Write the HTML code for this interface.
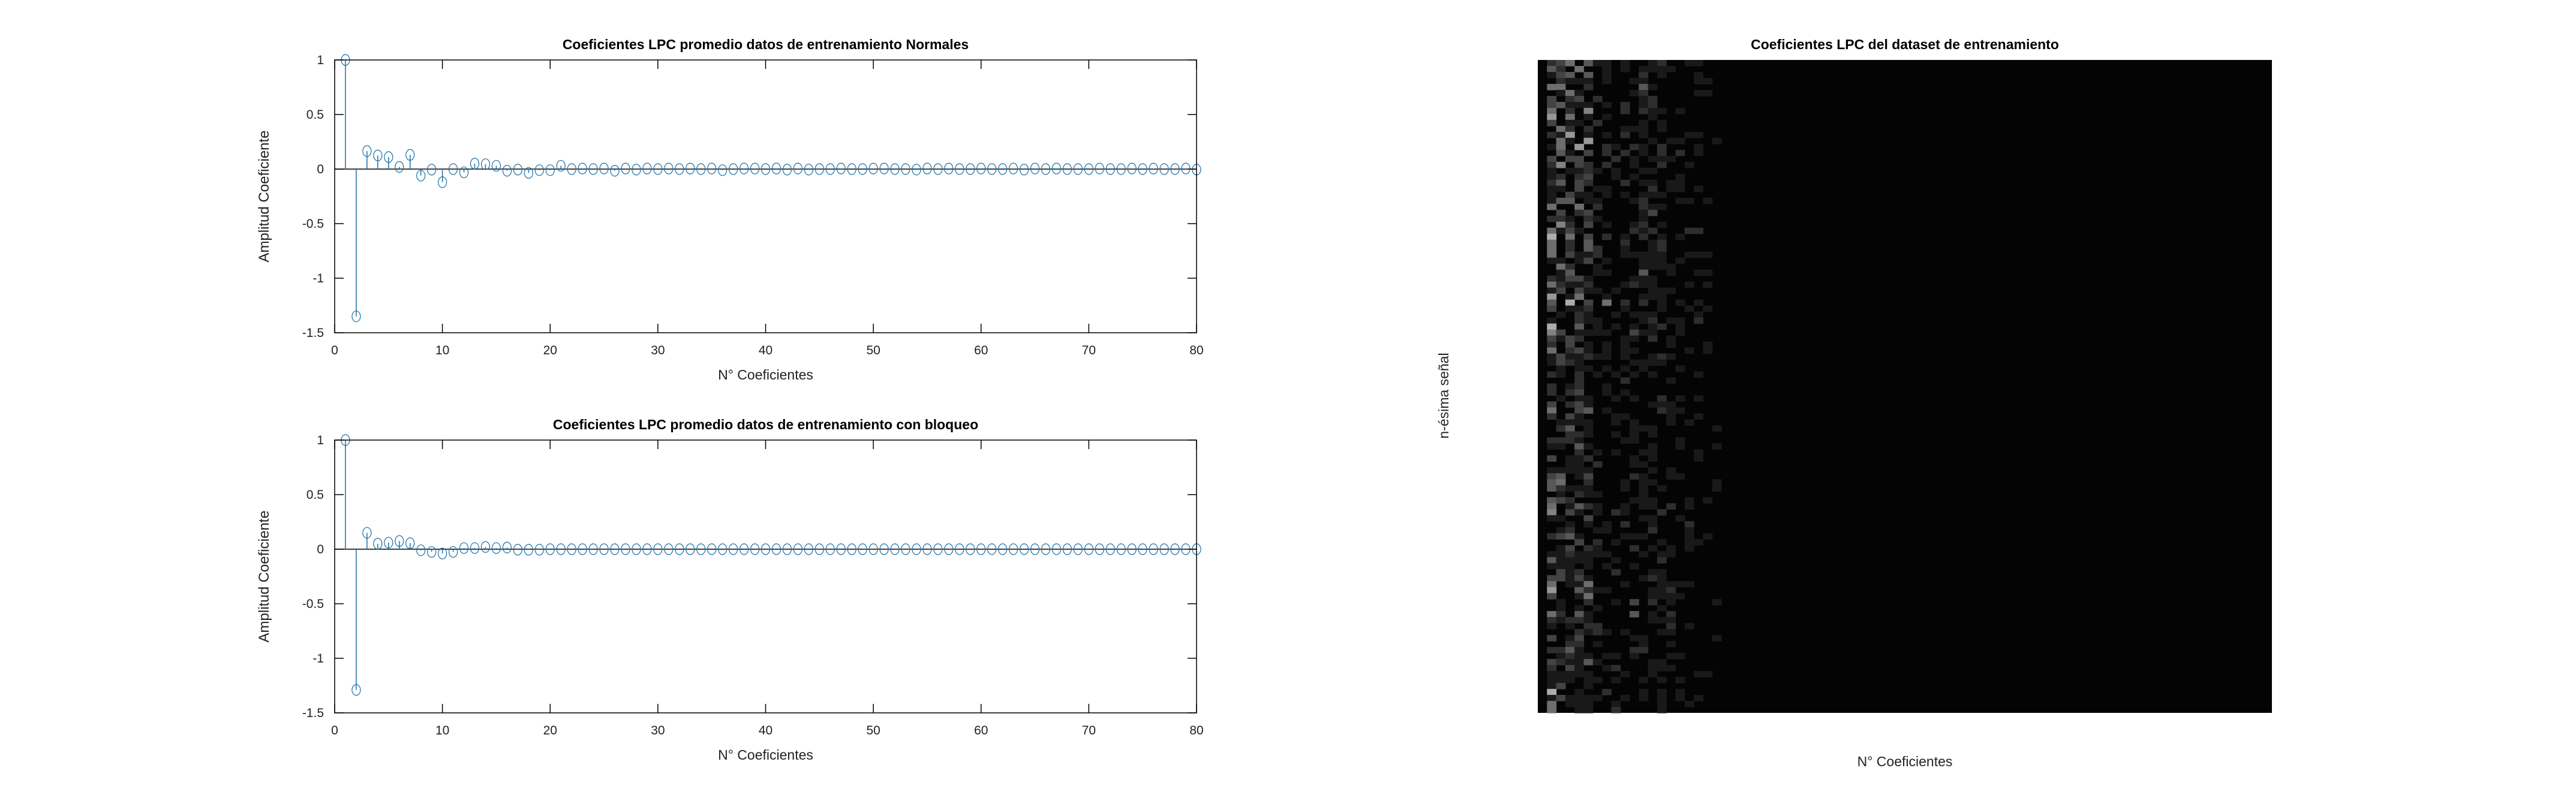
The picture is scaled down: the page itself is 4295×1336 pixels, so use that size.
<!DOCTYPE html>
<html><head><meta charset="utf-8">
<style>
html,body{margin:0;padding:0;background:#fff;}
svg{display:block;font-family:"Liberation Sans",sans-serif;}
</style></head>
<body>
<svg id="fig" width="4295" height="1336" viewBox="0 0 4295 1336" xmlns="http://www.w3.org/2000/svg">
<rect width="4295" height="1336" fill="#fff"/>
<g id="top"></g>
<g id="bot"></g>
<g id="heat"></g>
</svg>
<script>
const xTicks = [0,10,20,30,40,50,60,70,80];
const yTicks = [1,0.5,0,-0.5,-1,-1.5];
const yTickLabels = ["1","0.5","0","-0.5","-1","-1.5"];
const normalValues = [1,-1.35,0.165,0.125,0.11,0.02,0.13,-0.06,-0.005,-0.12,0.0,-0.03,0.05,0.045,0.03,-0.015,-0.005,-0.035,-0.01,-0.01,0.03,0,0.005,0,0.005,-0.015,0.005,-0.005,0.005,0,0.005,0,0.005,0,0.005,-0.01,0,0.005,0.005,0,0.005,-0.005,0.005,-0.005,0,0,0.005,0,0,0.005,0.005,0,0,-0.005,0.005,0,0.005,0,0,0.005,0,0,0.005,-0.005,0.005,0,0.005,0,0,0,0.005,0,0,0.005,0,0.005,0,0,0.005,-0.005];
const bloqueoValues = [1,-1.29,0.15,0.05,0.06,0.075,0.055,-0.01,-0.025,-0.04,-0.025,0.01,0.01,0.02,0.01,0.015,-0.005,-0.005,-0.005,0,0,0,0,0,0,0,0,0,0,0,0,0,0,0,0,0,0,0,0,0,0,0,0,0,0,0,0,0,0,0,0,0,0,0,0,0,0,0,0,0,0,0,0,0,0,0,0,0,0,0,0,0,0,0,0,0,0,0,0,0];
const heatRows = [
"02350411010012001100","04205001010111100000","01340401000201000100","00211101001100000110",
"05500200000410000000","00151000001200000110","03023020000120000000","03411101020120000000",
"05020600020211010000","07050101000010000000","03011020000101000000","00520200011101000000",
"02170101020100001100","00510700000010110001","01507002102102000100","00410302020102020100",
"03033000201011100000","02603202001002001000","01011210100110000000","01202300101000010000",
"02403200020110110000","01103011000020110100","01031101010111000000","01440110001200011010",
"05005020000211000000","00302300000130000000","02210210000100000000","00620301001201000000",
"05131000002120002200","08050302010201010000","05020400020012000000","05020420010012000000",
"05031120011111001110","01101301000111010000","00520010000111100000","00140011000400100110",
"02133100001110000000","05211200012110001010","01303110100011100000","07015001000111000000",
"04080305020201010100","03011200010001001010","00102100101110000100","01002110000120110200",
"08004010101012010000","06301111003110010000","03132000011020100000","02030101010000100010",
"05023101011000001010","01311211010012100000","01321000001111000000","00101101010100010000",
"02102010101010000100","00002000020000100000","02012001000000000000","02023001010000000000",
"00101100101002010100","03023100000011100000","05003401000002110000","02031000110000100100",
"00111100101000101000","00240100001110000001","00022100101010000000","02221000011000010000",
"01104100000010010001","00002010100110000100","03011200001010000100","00011020001100000000",
"01111100000010100000","03401300002100110000","04500200010110000001","04211100010101000001",
"00102110000100000000","04320000001110001010","05014210010110201000","06031010210002000000",
"01100300000110010000","00010101020010002000","00120011000020001000","02341000011100001010",
"00003020100001001100","00130210002010101000","01121111000101100000","04111100100002000000",
"01110101001000000000","00312000200011000000","03313100000121000000","05011500010001111000",
"07004211000011200000","03001500000011110000","00100200103020100001","00101010000001000000",
"05204100004010200000","02122100000011100000","01010220000000201000","00002121010001100000",
"03013000001100000001","00022010000100100000","02241000002200000000","00121101101000110000",
"03211410000011000000","02031001200011100000","01111100010010000110","01110110100101010000",
"01300100000000000000","08001002000101010000","01311110010101010100","05011100100001001000",
"05001100200001000000"];
const heatCols = 80;
</script>
<script>
const NS="http://www.w3.org/2000/svg";
function mk(parent,tag,attrs,text){const e=document.createElementNS(NS,tag);for(const k in attrs)e.setAttribute(k,attrs[k]);if(text!==undefined)e.textContent=text;parent.appendChild(e);return e;}

function stemChart(g,vals,box,title){
  const sx=v=>box.l+(v-0)/(80-0)*(box.r-box.l);
  const sy=v=>box.t+(1-v)/(1-(-1.5))*(box.b-box.t);
  const t=mk(g,'text',{x:(box.l+box.r)/2,y:box.t-18,'text-anchor':'middle','font-size':23,'font-weight':'bold',fill:'#000'},title);
  
  
  const bl=mk(g,'line',{x1:box.l,x2:box.r,y1:sy(0),y2:sy(0),stroke:'#000','stroke-width':1.5});
  
  
  vals.forEach((v,i)=>{
    const x=sx(i+1);
    const s=mk(g,'line',{x1:x,x2:x,y1:sy(0),y2:sy(v),stroke:'#1a6fa8','stroke-width':1.5});
    
    
    const c=mk(g,'ellipse',{cx:x,cy:sy(v),rx:7,ry:9,fill:'none',stroke:'#1a6fa8','stroke-width':1.2});
    
    
  });
  const fr=mk(g,'rect',{x:box.l,y:box.t,width:box.r-box.l,height:box.b-box.t,fill:'none',stroke:'#000','stroke-width':1.5});
  
  
  xTicks.forEach(v=>{
    const x=sx(v);
    mk(g,'line',{x1:x,x2:x,y1:box.b,y2:box.b-15,stroke:'#000','stroke-width':1.5});
    mk(g,'line',{x1:x,x2:x,y1:box.t,y2:box.t+15,stroke:'#000','stroke-width':1.5});
    const l=mk(g,'text',{x:x,y:box.b+36,'text-anchor':'middle','font-size':21,fill:'#222'},String(v));
    
    
  });
  yTicks.forEach((v,i)=>{
    const y=sy(v);
    mk(g,'line',{x1:box.l,x2:box.l+15,y1:y,y2:y,stroke:'#000','stroke-width':1.5});
    mk(g,'line',{x1:box.r,x2:box.r-15,y1:y,y2:y,stroke:'#000','stroke-width':1.5});
    const l=mk(g,'text',{x:box.l-18,y:y+7,'text-anchor':'end','font-size':21,fill:'#222'},yTickLabels[i]);
    
    
  });
  const xl=mk(g,'text',{x:(box.l+box.r)/2,y:box.b+78,'text-anchor':'middle','font-size':23,fill:'#222'},'N° Coeficientes');
  
  
  const cy=(box.t+box.b)/2;
  const yl=mk(g,'text',{x:448,y:cy,'text-anchor':'middle','font-size':24,fill:'#222',transform:`rotate(-90 448 ${cy})`},'Amplitud Coeficiente');
  
  
}
stemChart(document.getElementById('top'),normalValues,{l:558,r:1995,t:100,b:555},'Coeficientes LPC promedio datos de entrenamiento Normales');
stemChart(document.getElementById('bot'),bloqueoValues,{l:558,r:1995,t:734,b:1189},'Coeficientes LPC promedio datos de entrenamiento con bloqueo');

(function(){
  const g=document.getElementById('heat');
  const L=2564,R=3788,T=100,B=1189;
  const nR=heatRows.length;
  const cw=(R-L)/heatCols, rh=(B-T)/nR;
  const bg=mk(g,'rect',{x:L,y:T,width:R-L,height:B-T,fill:'#040404'});
  
  
  heatRows.forEach((row,ri)=>{
    for(let ci=0;ci<row.length;ci++){
      const v=+row[ci];
      if(v===0) continue;
      const gv=Math.min(255,4+v*21);
      const c=mk(g,'rect',{x:L+ci*cw,y:T+ri*rh,width:cw+0.6,height:rh+0.6,fill:`rgb(${gv},${gv},${gv})`});
      
      
    }
  });
  const t=mk(g,'text',{x:(L+R)/2,y:82,'text-anchor':'middle','font-size':23,'font-weight':'bold',fill:'#000'},'Coeficientes LPC del dataset de entrenamiento');
  
  
  const xl=mk(g,'text',{x:(L+R)/2,y:1278,'text-anchor':'middle','font-size':23,fill:'#222'},'N° Coeficientes');
  
  
  const yl=mk(g,'text',{x:2415,y:660,'text-anchor':'middle','font-size':23,fill:'#222',transform:'rotate(-90 2415 660)'},'n-ésima señal');
  
  
})();
</script>
</body></html>
